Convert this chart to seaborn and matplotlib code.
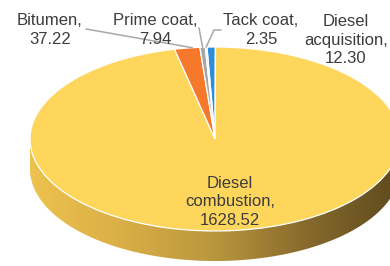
import numpy as np
import matplotlib
matplotlib.use("Agg")
from matplotlib import pyplot as plt
from matplotlib.colors import LinearSegmentedColormap
from matplotlib.patches import Polygon
import seaborn as sns

# slices, clockwise from 12 o'clock
labels = ["Diesel\nacquisition", "Diesel\ncombustion", "Bitumen", "Prime coat", "Tack coat"]
values = [12.30, 1628.52, 37.22, 7.94, 2.35]
colors = ["#2b8fdc", "#ffd65c", "#f6782a", "#a6a6a6", "#d2d2d2"]

sns.set_theme(style="white")
plt.rcParams["font.family"] = ["Liberation Sans", "DejaVu Sans"]

W, H = 390, 266
fig = plt.figure(figsize=(W / 100, H / 100), dpi=100)
fig.patch.set_facecolor("white")

# pie axes: unit circle squashed into an ellipse by unequal x/y scales
cx, cy, rx, ry = 215, 139, 185, 92
depth = 30 / ry
ax = fig.add_axes([0, 0, 1, 1])
wedges, _ = ax.pie(values, colors=colors, startangle=92.5, counterclock=False,
                   radius=1, center=(0, 0),
                   wedgeprops=dict(edgecolor="white", linewidth=0.9, zorder=3))
ax.set_aspect("auto")
ax.axis("off")

# 3D side of the pie with a left-to-right shading
t = np.linspace(np.pi, 2 * np.pi, 200)
top = np.column_stack([np.cos(t), np.sin(t)])
bot = np.column_stack([np.cos(t[::-1]), np.sin(t[::-1]) - depth])
side = Polygon(np.vstack([top, bot]), closed=True, facecolor="none",
               edgecolor="none", zorder=1)
ax.add_patch(side)
side_cmap = LinearSegmentedColormap.from_list(
    "side", ["#eec24e", "#d9ae46", "#b9963e", "#87692c", "#5e4a1e"])
grad = np.linspace(0, 1, 256).reshape(1, -1)
img = ax.imshow(grad, cmap=side_cmap, aspect="auto", zorder=2,
                extent=(-1, 1, -1 - depth, 0), interpolation="bilinear")
img.set_clip_path(side)
ax.set_xlim(-cx / rx, (W - cx) / rx)
ax.set_ylim(-(H - cy) / ry, cy / ry)

# label overlay in pixel coordinates
lab = fig.add_axes([0, 0, 1, 1])
lab.set_xlim(0, W)
lab.set_ylim(H, 0)
lab.axis("off")
lab.patch.set_alpha(0)

def anchor(w, frac=0.5):
    ang = np.deg2rad(w.theta1 + (w.theta2 - w.theta1) * frac)
    p = ax.transData.transform((np.cos(ang), np.sin(ang)))
    return lab.transData.inverted().transform(p)

txt = dict(fontsize=12, color="#3c3c3c", ha="center", va="center",
           linespacing=1.3)
line = dict(color="#a8a8a8", lw=1.1)

lab.text(50, 30, f"Bitumen,\n{values[2]:.2f}", **txt)
lab.text(155, 30, f"Prime coat,\n{values[3]:.2f}", **txt)
lab.text(261, 30, f"Tack coat,\n{values[4]:.2f}", **txt)
lab.text(346, 40, f"Diesel\nacquisition,\n{values[0]:.2f}", **txt)
lab.text(230, 202, f"Diesel\ncombustion,\n{values[1]:.2f}", **txt)

a = anchor(wedges[2], 0.3)
lab.plot([86, a[0]], [29, a[1]], **line)
a = anchor(wedges[3])
lab.plot([199, a[0]], [28, a[1]], **line)
a = anchor(wedges[4])
lab.plot([221, 214, a[0]], [30, 30, a[1]], **line)

fig.savefig("out.png", dpi=100, facecolor="white")
